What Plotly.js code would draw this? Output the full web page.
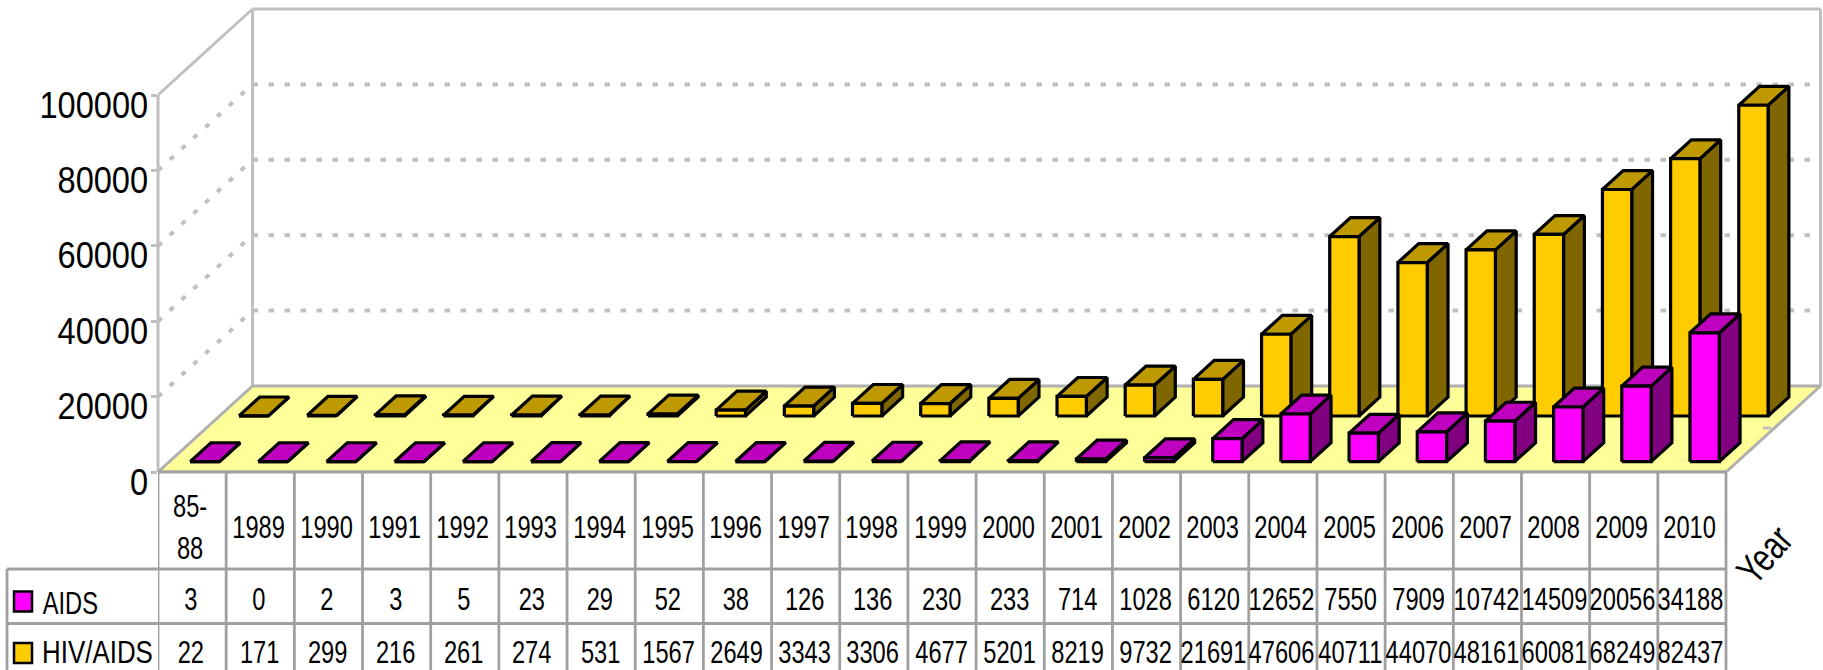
<!DOCTYPE html>
<html><head><meta charset="utf-8">
<script src="https://cdn.plot.ly/plotly-3.0.1.min.js"></script>
<style>
html,body{margin:0;padding:0;background:#fff;overflow:hidden}
#chart{width:1823px;height:670px}
.scatterlayer .js-line{stroke-linejoin:miter !important}
</style></head><body><div id="chart"></div>
<script>
const categories=['85-<br>88','1989','1990','1991','1992','1993','1994','1995','1996','1997','1998','1999','2000','2001','2002','2003','2004','2005','2006','2007','2008','2009','2010'];
const aids=[3,0,2,3,5,23,29,52,38,126,136,230,233,714,1028,6120,12652,7550,7909,10742,14509,20056,34188];
const hiv=[22,171,299,216,261,274,531,1567,2649,3343,3306,4677,5201,8219,9732,21691,47606,40711,44070,48161,60081,68249,82437];
const yTicks=[0,20000,40000,60000,80000,100000];
const seriesNames=['AIDS','HIV/AIDS'];

const L=158,R=1726,T=95,B=472,W=1823,H=670;
const N=categories.length;
const catPx=(R-L)/N, valPx=(B-T)/100000;
const depthX=94.5/catPx, depthY=86/valPx;
const P=(c,v,d)=>[c+d*depthX,v+d*depthY];
const poly=(pts)=>{const x=[],y=[];pts.forEach(p=>{const q=P(...p);x.push(q[0]);y.push(q[1]);});return {x,y};};
const px=(p)=>(p-L)/(W-L);
const py=(p)=>(B-p)/B;
const grey='#C0C0C0', tableGrey='#A0A0A0';

function faces(vals,d0,off){
  const w=0.43,d1=d0+0.22;
  const f={x:[],y:[]},t={x:[],y:[]},s={x:[],y:[]};
  const add=(o,pts)=>{const g=poly(pts.concat([pts[0]]));o.x.push(...g.x,null);o.y.push(...g.y,null);};
  vals.forEach((v,i)=>{
    const c0=i+off,c1=c0+w;
    add(s,[[c1,0,d0],[c1,0,d1],[c1,v,d1],[c1,v,d0]]);
    add(t,[[c0,v,d0],[c1,v,d0],[c1,v,d1],[c0,v,d1]]);
    add(f,[[c0,0,d0],[c1,0,d0],[c1,v,d0],[c0,v,d0]]);
  });
  return {f,t,s};
}
const traces=[];
const line=(pts,color,width,dash)=>{const g=poly(pts);traces.push({type:'scatter',mode:'lines',x:g.x,y:g.y,hoverinfo:'skip',showlegend:false,line:{color,width,dash:dash||'solid'}});};
yTicks.slice(1,5).forEach(v=>{
  line([[0,v,0],[0,v,1]],grey,4,'5px,11px');
  line([[0,v,1],[N,v,1]],grey,4,'5.5px,10.5px');
});
line([[0,100000,1],[N,100000,1]],grey,3);
line([[0,100000,0],[0,100000,1]],grey,3);
line([[0,0,1],[0,100000,1]],grey,3);
line([[N,0,1],[N,100000,1]],grey,3);
const fl=poly([[0,0,0],[N,0,0],[N,0,1],[0,0,1],[0,0,0]]);
traces.push({type:'scatter',mode:'lines',x:fl.x,y:fl.y,fill:'toself',fillcolor:'#FFFF99',hoverinfo:'skip',showlegend:false,line:{color:'#B0B0B0',width:3}});
const addBars=(vals,d,off,name,cf,ct,cs)=>{
  const {f,t,s}=faces(vals,d,off);
  [[s,cs,' side'],[t,ct,' top'],[f,cf,'']].forEach(([o,c,n])=>{
    traces.push({type:'scatter',mode:'lines',name:name+n,x:o.x,y:o.y,fill:'toself',fillcolor:c,hoverinfo:'skip',showlegend:false,line:{color:'#000',width:3.2}});
  });
};
addBars(hiv,0.651,0.285,seriesNames[1],'#FFCC00','#BF9900','#806600');
addBars(aids,0.12,0.305,seriesNames[0],'#FF00FF','#BF00BF','#800080');

const shapes=[],annotations=[];
shapes.push({type:'line',xref:'paper',yref:'y',x0:0,x1:0,y0:0,y1:100000,line:{color:grey,width:3},layer:'below'});
const seg=(x0,y0,x1,y1,xref)=>shapes.push({type:'line',xref:xref,yref:'paper',x0,x1,y0:py(y0),y1:py(y1),line:{color:tableGrey,width:2.8},layer:'above'});
for(let i=0;i<=N;i++){seg(i,B,i,H,'x');}
seg(px(7),569,px(R),569,'paper');
seg(px(7),623.5,px(R),623.5,'paper');
seg(px(7),569,px(7),H,'paper');
seg(0,B,px(R),B,'paper');
shapes.push({type:'line',xref:'paper',yref:'paper',x0:px(1763),x1:px(1771),y0:py(428),y1:py(428),line:{color:grey,width:3},layer:'above'});
const font=(size)=>({family:'"Liberation Sans",Arial,sans-serif',size,color:'#000'});
const ann=(o)=>annotations.push(Object.assign({showarrow:false,font:font(32),xanchor:'center',yanchor:'middle',align:'center'},o));
categories.forEach((c,i)=>{
  ann({xref:'x',yref:'paper',x:i+0.5,xshift:-2,y:py(527),text:c});
  ann({xref:'x',yref:'paper',x:i+0.5,xshift:-1,y:py(599),text:String(aids[i])});
  ann({xref:'x',yref:'paper',x:i+0.5,xshift:-1,y:py(652),text:String(hiv[i])});
});
yTicks.forEach(v=>ann({xref:'paper',yref:'y',x:0,xshift:-8,y:v,yshift:-10,xanchor:'right',text:String(v),font:font(36)}));
ann({xref:'paper',yref:'paper',x:px(70),y:py(603),text:seriesNames[0]});
ann({xref:'paper',yref:'paper',x:px(97),y:py(652),text:seriesNames[1]});
ann({xref:'paper',yref:'paper',x:px(1764),y:py(555),text:'Year',textangle:-49,font:font(40)});
[['#FF00FF',591.5,611.5],['#FFCC00',643,663]].forEach(([c,a,b])=>shapes.push({type:'rect',xref:'paper',yref:'paper',x0:px(14),x1:px(32),y0:py(a),y1:py(b),fillcolor:c,line:{color:'#000',width:2.5},layer:'above'}));

Plotly.newPlot('chart',traces,{
  width:W,height:H,margin:{l:L,r:0,t:0,b:H-B,pad:0},
  paper_bgcolor:'#fff',plot_bgcolor:'rgba(0,0,0,0)',showlegend:false,
  xaxis:{range:[0,(W-L)/catPx],showgrid:false,zeroline:false,showticklabels:false,ticks:'',showline:false},
  yaxis:{range:[0,B/valPx],tickvals:yTicks,showticklabels:false,ticks:'outside',ticklen:6,tickwidth:3,tickcolor:grey,showgrid:false,zeroline:false,showline:false},
  shapes,annotations
},{staticPlot:true,displayModeBar:false}).then(()=>{
  document.querySelectorAll('.annotation-text').forEach(t=>{
    const s=t.textContent; const size=parseFloat(t.style.fontSize);
    let k=0.74, origin='50% 50%';
    if(s==='Year'){k=0.75;}
    else if(size===36){k=0.905;origin='100% 50%';}
    else if(s===seriesNames[1]){k=0.81;}
    t.style.transformBox='fill-box';t.style.transformOrigin=origin;t.style.transform='scaleX('+k+')';
  });
});
</script></body></html>
